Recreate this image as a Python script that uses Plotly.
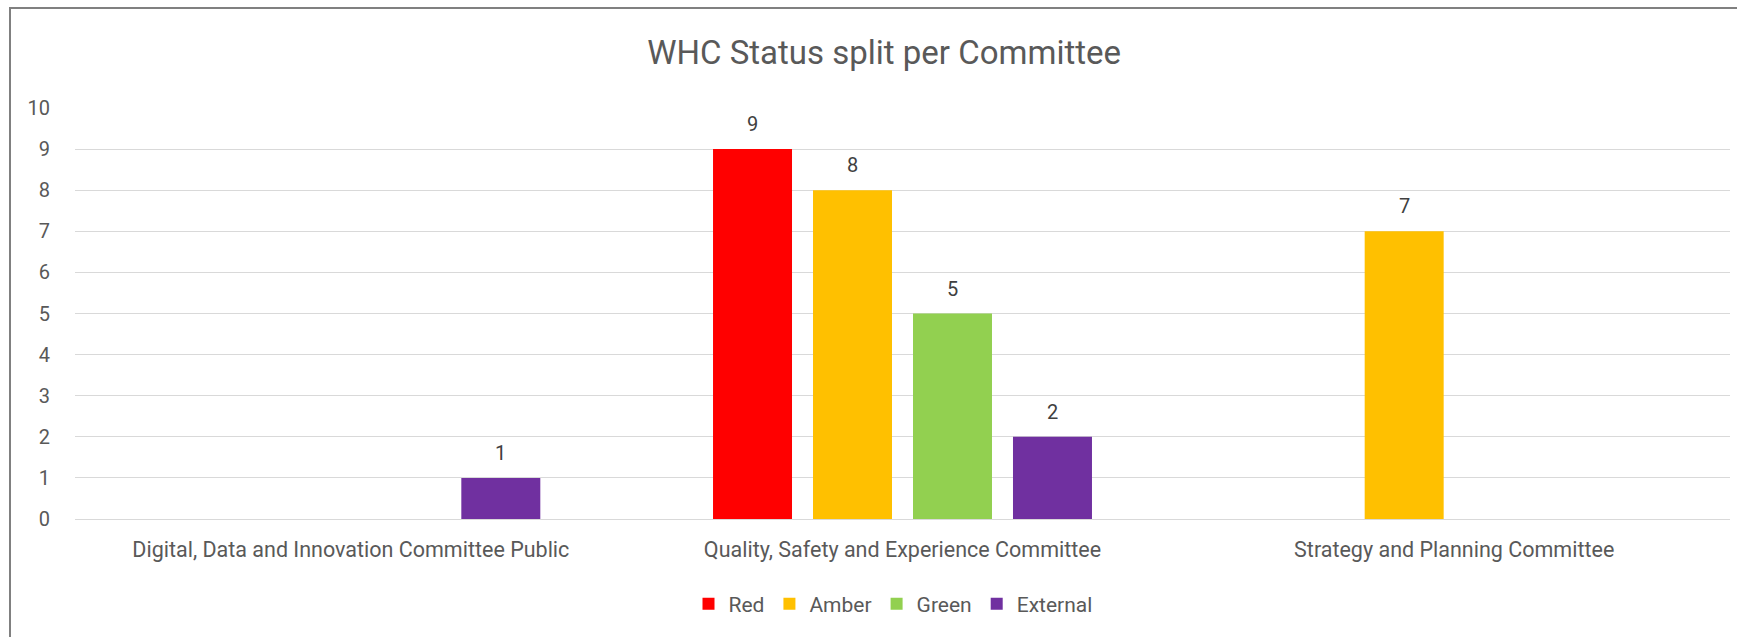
import plotly.graph_objects as go

categories = [
    "Digital, Data and Innovation Committee Public",
    "Quality, Safety and Experience Committee",
    "Strategy and Planning Committee",
]
series_names = ["Red", "Amber", "Green", "External"]
red_values = [None, 9, None]
amber_values = [None, 8, 7]
green_values = [None, 5, None]
external_values = [1, 2, None]
series_values = [red_values, amber_values, green_values, external_values]
series_colors = ["#FF0000", "#FFC000", "#92D050", "#7030A0"]
y_ticks = list(range(0, 11))

FONT = "Roboto"
TEXT = "#595959"
BARGAP = 0.275

fig = go.Figure()
for name, vals, col in zip(series_names, series_values, series_colors):
    fig.add_trace(go.Bar(name=name, x=categories, y=vals, marker_color=col,
                         marker_line_width=0, hoverinfo="skip"))

# data labels above bars, positioned using the category axis index + group offset
n = len(series_names)
slot = (1 - BARGAP) / n
annotations = []
for j, vals in enumerate(series_values):
    off = -(1 - BARGAP) / 2 + slot * (j + 0.5)
    for i, v in enumerate(vals):
        if v is None:
            continue
        annotations.append(dict(x=i + off, y=v, xref="x", yref="y", text=str(v),
                                showarrow=False, yanchor="bottom", yshift=11,
                                font=dict(family=FONT, size=20, color="#404040")))

fig.update_layout(
    width=1737, height=637,
    margin=dict(l=75, r=7, t=108, b=118),
    paper_bgcolor="white", plot_bgcolor="white",
    barmode="group", bargap=BARGAP, bargroupgap=0.21,
    font=dict(family=FONT, size=20, color=TEXT),
    title=dict(text="WHC Status split per Committee", x=0.509, xanchor="center",
               y=1 - 52 / 637, yanchor="middle", xref="container", yref="container",
               font=dict(family=FONT, size=33, color=TEXT)),
    legend=dict(orientation="h", x=893 / 1737, xanchor="center", y=1 - 604 / 637,
                yanchor="middle", xref="container", yref="container",
                font=dict(family=FONT, size=21, color=TEXT), itemwidth=30,
                traceorder="normal"),
    xaxis=dict(type="category", showgrid=False, zeroline=False, showline=False,
               ticks="outside", ticklen=11, tickcolor="rgba(0,0,0,0)",
               tickfont=dict(family=FONT, size=21.5, color=TEXT)),
    yaxis=dict(range=[0, 10], tickvals=y_ticks, showgrid=True, gridcolor="#D9D9D9",
               gridwidth=1.3, zeroline=True, zerolinecolor="#D9D9D9", zerolinewidth=1.3,
               showline=False, ticks="outside", ticklen=20, tickcolor="rgba(0,0,0,0)",
               tickfont=dict(family=FONT, size=20, color=TEXT)),
    annotations=annotations,
    shapes=[dict(type="rect", xref="paper", yref="paper",
                 x0=-75 / 1655 + 10 / 1655, x1=1.2, y0=-0.5, y1=1 + 100 / 411,
                 line=dict(color="#808080", width=2), fillcolor="rgba(0,0,0,0)",
                 layer="below")],
)

fig.write_html("out.html")
